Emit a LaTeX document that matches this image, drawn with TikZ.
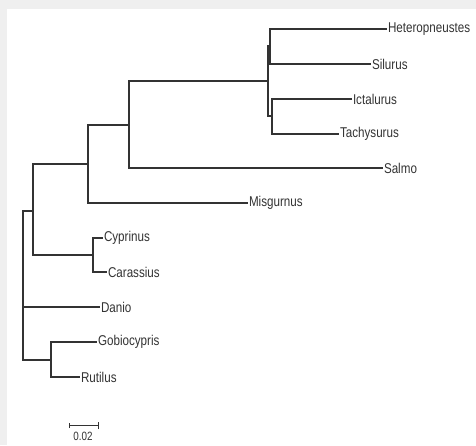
\documentclass[tikz,border=0pt]{standalone}
\usepackage{fontspec}
\setmainfont{Liberation Sans}[FakeStretch=0.82]
\usetikzlibrary{positioning}
\definecolor{branch}{HTML}{333333}
\definecolor{frame}{HTML}{efefef}

\begin{document}
\begin{tikzpicture}[x=1pt,y=-1pt,
  taxon/.style={anchor=west, inner sep=0.8pt, font=\fontsize{14.2}{16}\selectfont, text=branch},
  edge/.style={draw=branch, line width=1.1pt}]
% page frame
\fill[frame] (0,0) rectangle (476,445);
\fill[white] (7,9) rectangle (476,445);
\useasboundingbox (0,0) rectangle (476,445);

% inner nodes of the tree
\coordinate (root) at (23,285);
\coordinate (upper) at (33,211);
\coordinate (mid) at (88,164);
\coordinate (neo) at (129,125);
\coordinate (silu) at (268,81);
\coordinate (hetsil) at (270,46);
\coordinate (ictach) at (272,116);
\coordinate (cyca) at (93,255);
\coordinate (gobru) at (51,360);

% leaves
\node[taxon] (het) at (387,29) {Heteropneustes};
\node[taxon] (sil) at (371,64) {Silurus};
\node[taxon] (ict) at (352,99) {Ictalurus};
\node[taxon] (tach) at (339,134) {Tachysurus};
\node[taxon] (salmo) at (383,168) {Salmo};
\node[taxon] (misg) at (248,203) {Misgurnus};
\node[taxon] (cyp) at (103,238) {Cyprinus};
\node[taxon] (car) at (107,272) {Carassius};
\node[taxon] (danio) at (100,307) {Danio};
\node[taxon] (gob) at (97,342) {Gobiocypris};
\node[taxon] (rut) at (80,377) {Rutilus};

% branches
\draw[edge] (root) |- (upper);
\draw[edge] (root) |- (danio.west);
\draw[edge] (root) |- (gobru);
\draw[edge] (upper) |- (mid);
\draw[edge] (upper) |- (cyca);
\draw[edge] (mid) |- (neo);
\draw[edge] (mid) |- (misg.west);
\draw[edge] (neo) |- (silu);
\draw[edge] (neo) |- (salmo.west);
\draw[edge] (silu) |- (hetsil);
\draw[edge] (silu) |- (ictach);
\draw[edge] (hetsil) |- (het.west);
\draw[edge] (hetsil) |- (sil.west);
\draw[edge] (ictach) |- (ict.west);
\draw[edge] (ictach) |- (tach.west);
\draw[edge] (cyca) |- (cyp.west);
\draw[edge] (cyca) |- (car.west);
\draw[edge] (gobru) |- (gob.west);
\draw[edge] (gobru) |- (rut.west);

% scale bar
\coordinate (barl) at (69,425);
\coordinate (barr) at (98,425);
\draw[edge, line width=0.9pt] (barl) -- (barr);
\draw[edge, line width=0.7pt] ([yshift=-3pt]barl) -- ([yshift=2pt]barl);
\draw[edge, line width=0.7pt] ([yshift=-4pt]barr) -- ([yshift=3pt]barr);
\node[font=\fontsize{12}{14}\selectfont, text=branch, inner sep=1pt] (scale) at (83,436) {0.02};
\end{tikzpicture}
\end{document}
